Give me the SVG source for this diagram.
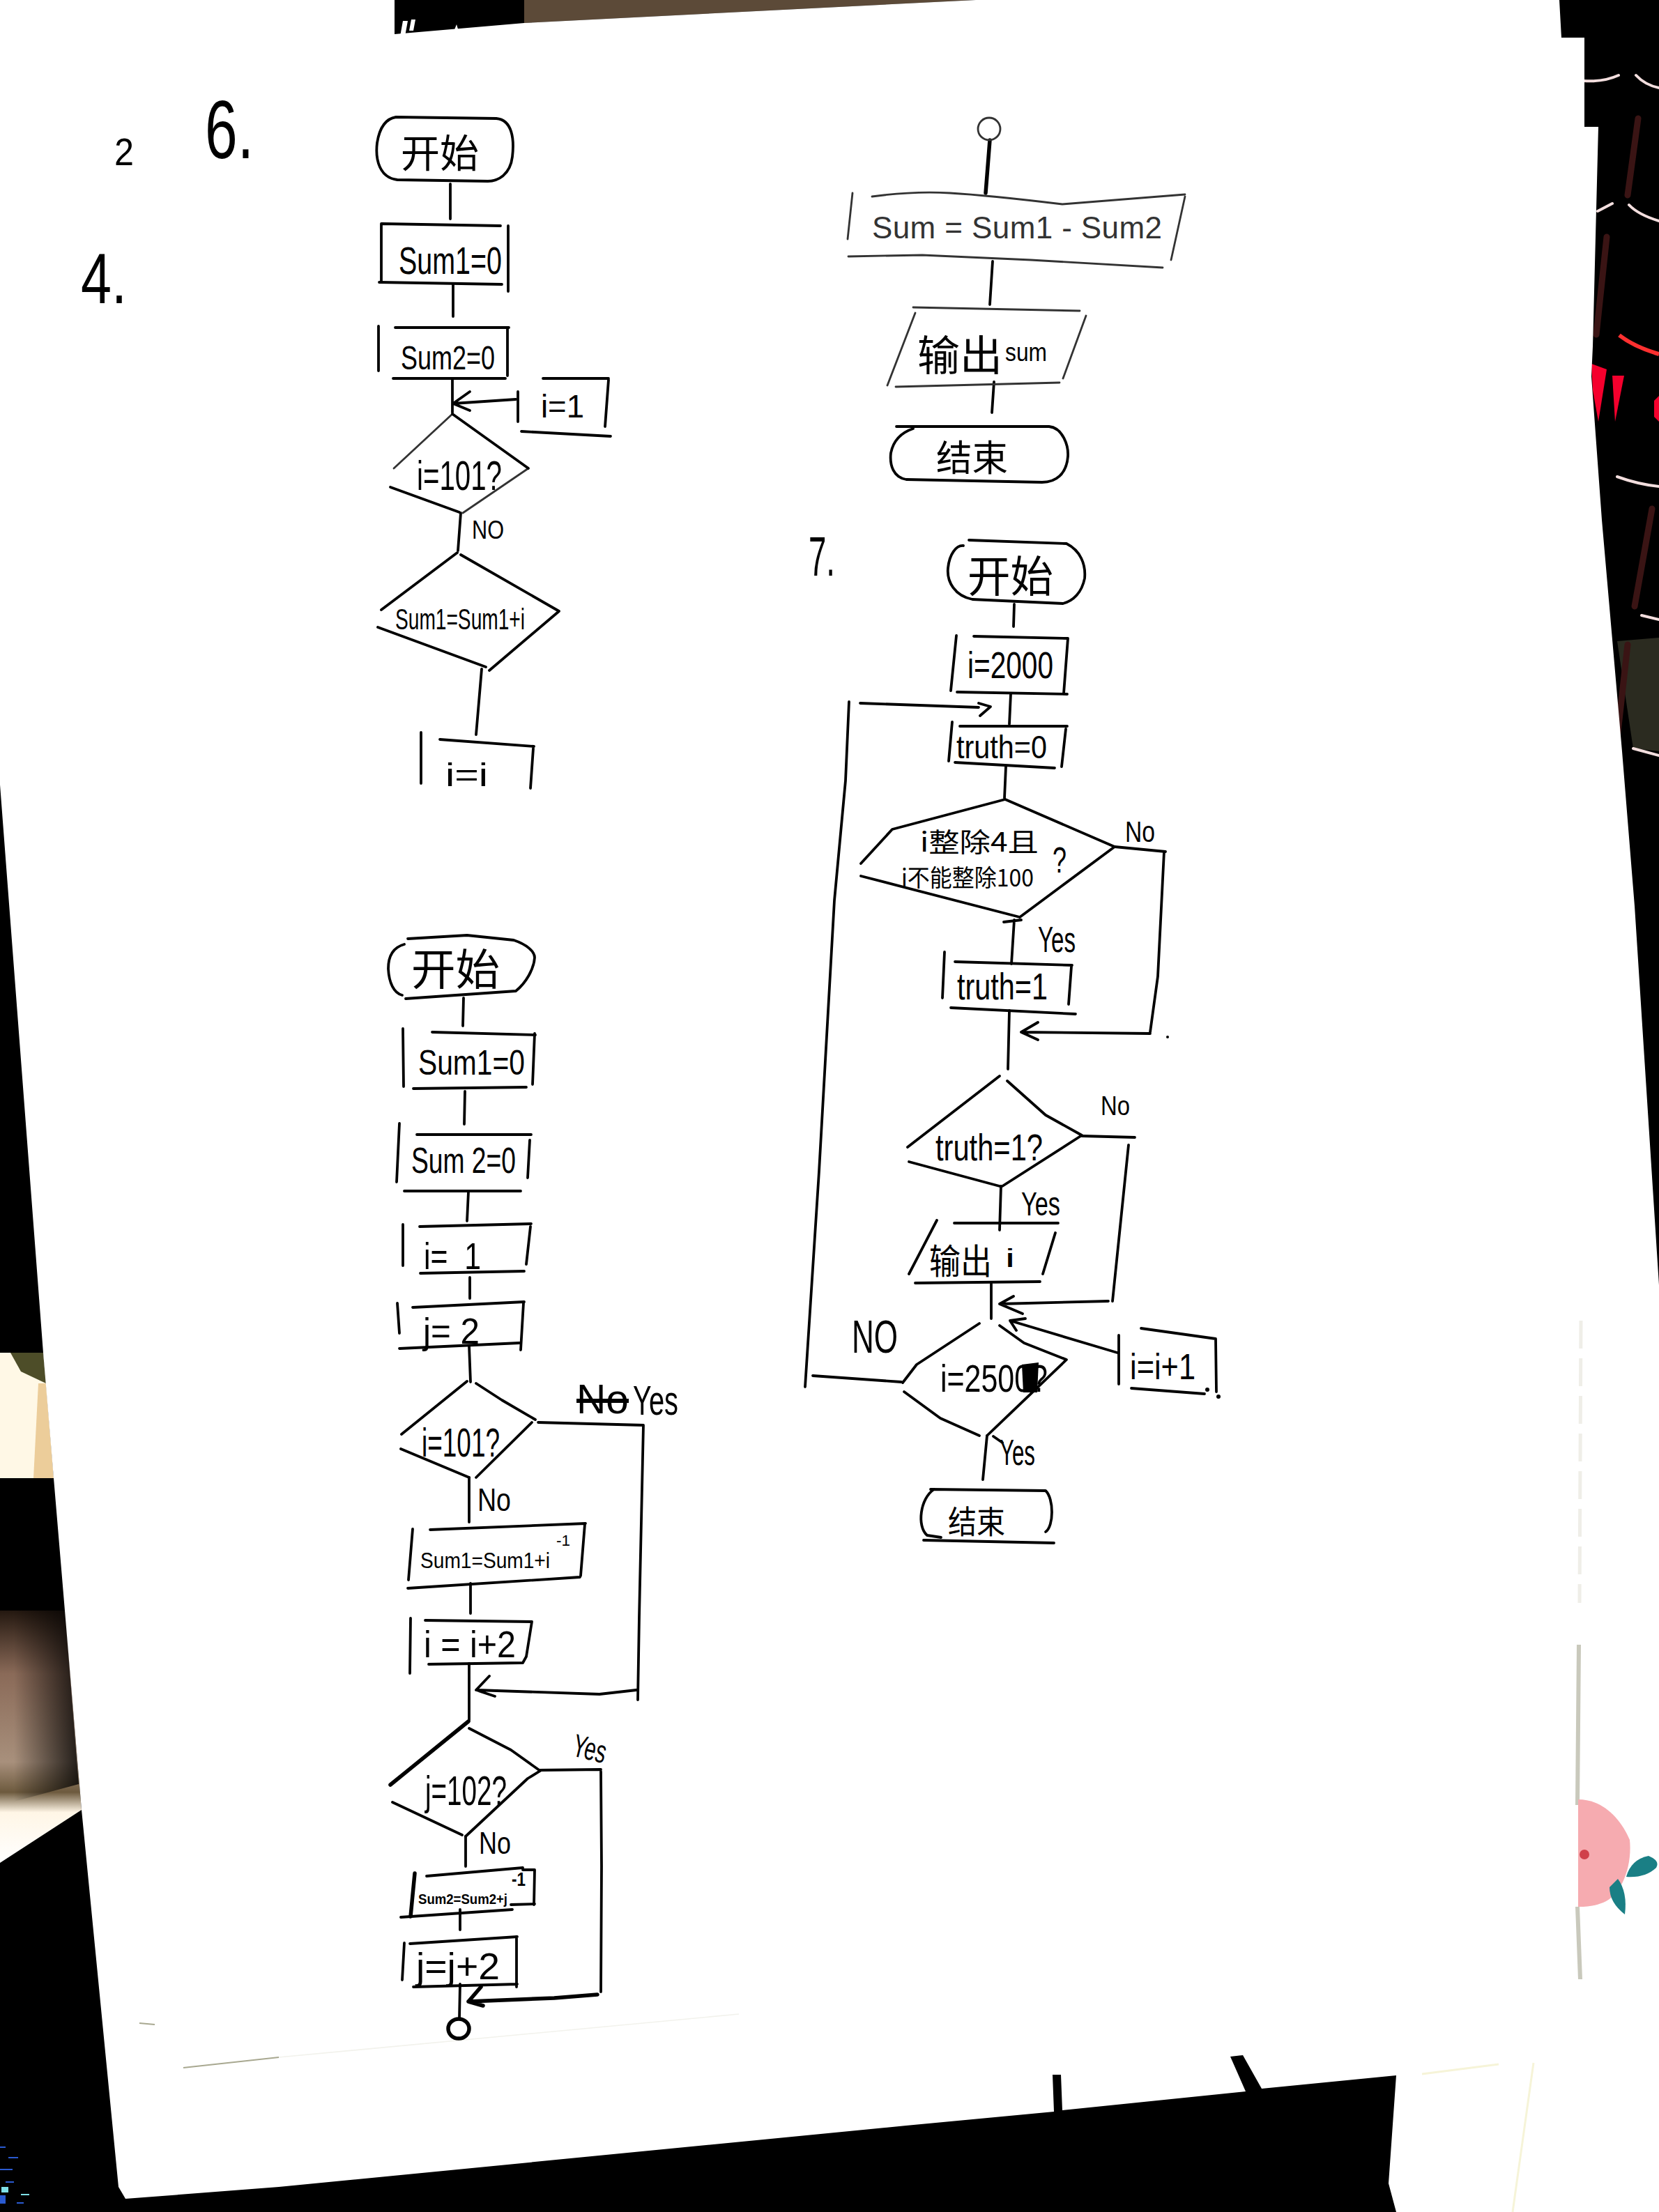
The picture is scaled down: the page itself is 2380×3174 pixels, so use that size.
<svg xmlns="http://www.w3.org/2000/svg" width="2380" height="3174" viewBox="0 0 2380 3174">
<style>
.s{fill:none;stroke:#000;stroke-width:3.8;stroke-linecap:round;stroke-linejoin:round}
.g{fill:none;stroke:#333;stroke-width:2.8;stroke-linecap:round;stroke-linejoin:round}
.b{fill:none;stroke:#000;stroke-width:5.5;stroke-linecap:round;stroke-linejoin:round}
.t{font-family:"Liberation Sans","Noto Sans CJK SC",sans-serif;fill:#000}
.c{font-family:"Noto Sans CJK SC","Liberation Sans",sans-serif;fill:#000}
.tg{font-family:"Liberation Sans","Noto Sans CJK SC",sans-serif;fill:#333}
.band{fill:none;stroke:#f3dede;stroke-width:4;stroke-linecap:round}
.smear{fill:none;stroke:#3a1414;stroke-width:9;stroke-linecap:round}
</style>
<defs>
<linearGradient id="brown" x1="0" y1="0" x2="0" y2="1">
<stop offset="0" stop-color="#241810"/><stop offset=".25" stop-color="#8a6a58"/><stop offset=".6" stop-color="#a8907c"/><stop offset=".72" stop-color="#6d5a3e"/><stop offset=".8" stop-color="#fff6e6"/><stop offset="1" stop-color="#fff"/>
</linearGradient>
<linearGradient id="shade" x1="0" y1="0" x2="1" y2="0">
<stop offset="0" stop-color="#000" stop-opacity="0"/><stop offset="1" stop-color="#000" stop-opacity=".8"/>
</linearGradient>
</defs>
<g id="photo-background">
<rect width="2380" height="3174" fill="#000"/>
<path d="M1400 0L752 33 752 0Z" fill="#5c4a38"/>
<path d="M2320 920L2380 915 2380 1078 2343 1074Z" fill="#2b2b20"/>
<path class="smear" d="M2350 170L2335 280M2305 340L2290 480M2370 730L2345 870M2335 925L2320 1060"/>
<path d="M2283 522L2305 530 2293 605 2285 560Z" fill="#f5002d"/>
<path d="M2313 539L2330 539 2317 605Z" fill="#f5002d"/>
<path d="M2380 568L2373 575 2373 598 2380 605Z" fill="#f5002d"/>
<path class="band" d="M2272 116Q2300 118 2322 108M2347 108Q2360 122 2380 126M2292 303L2313 292M2337 294Q2350 308 2380 317M2320 684Q2350 695 2380 698M2355 883L2380 889M2343 1074L2380 1084"/>
<path d="M2323 481Q2345 498 2380 508" fill="none" stroke="#ff3030" stroke-width="6"/>
<path d="M0 2311H93L117 2597 0 2673Z" fill="url(#brown)"/>
<path d="M20 2311H93L113 2560 20 2585Z" fill="url(#shade)"/>
<path d="M0 1941H62L77 2121H0Z" fill="#fff8e6"/>
<path d="M15 1941H62L66 1985 30 1968Z" fill="#4d4d28"/>
<path d="M55 1985L66 1985 77 2121 48 2121Z" fill="#eccd9a"/>
<path d="M0 3080h8v2H0zM12 3095h14v2H12zM0 3112h18v2H0zM8 3130h12v2H8zM0 3150h8v12H0zM24 3160h10v2H24z" fill="#2a5ad0"/>
<path d="M2 3138h10v8H2zM30 3148h12v2H30z" fill="#7fe0e8"/>
<path id="paper" d="M0 0H566V49L752 33 1400 0H2237L2240 54H2273V182H2293L2285 497 2283 540 2298 746 2327 1078 2345 1300 2380 1844V3174H2003L1992 3133 2003 2978 1810 2997 1783 2949 1765 2951 1787 3001 1524 3028 1522 2977 1510 2977 1512 3030 1300 3050 400 3138 180 3155 170 3138 117 2597 93 2311 77 2121 62 1941 0 1126Z" fill="#fff"/>
<path d="M578 30l-4 22 7 0 4-22zM590 28l-3 16 6 0 3-16zM655 35l-4 10 7 0z" fill="#fff"/>
<path d="M2268 1895L2266 2300" fill="none" stroke="#efeee8" stroke-width="5" stroke-dasharray="40 14"/>
<path d="M2265 2360L2263 2590M2263 2736L2267 2840" fill="none" stroke="#c9c9bc" stroke-width="6"/>
<path d="M2264 2582C2300 2582 2325 2610 2338 2640 2342 2680 2325 2720 2300 2730 2285 2736 2272 2736 2264 2736Z" fill="#f6abb0"/>
<circle cx="2273" cy="2661" r="7" fill="#d0404a"/>
<path d="M2333 2693Q2340 2668 2365 2663 2382 2670 2376 2680 2360 2695 2333 2693Z" fill="#1a7f85"/>
<path d="M2321 2696Q2335 2715 2331 2747 2309 2730 2309 2708Z" fill="#1a7f85"/>
<path d="M2040 2976L2150 2962M2200 2960L2170 3174" fill="none" stroke="#f6f4d8" stroke-width="3"/>
<path d="M200 2903L222 2905M263 2967L400 2952" fill="none" stroke="#a8a890" stroke-width="1.8"/>
<path d="M400 2952L1060 2890" fill="none" stroke="#f2f2ec" stroke-width="1.6"/>
</g>

<g id="page-labels">
<text class="t" x="164" y="237" font-size="55" textLength="28" lengthAdjust="spacingAndGlyphs">2</text>
<text class="t" x="294" y="227" font-size="118" textLength="70" lengthAdjust="spacingAndGlyphs">6.</text>
<text class="t" x="116" y="435" font-size="102" textLength="66" lengthAdjust="spacingAndGlyphs">4.</text>
<text class="t" x="1160" y="826" font-size="80" textLength="38" lengthAdjust="spacingAndGlyphs">7.</text>
</g>

<g id="connectors">
<path class="s" d="M646 264L646 314M650 408L650 454M649 545L649 592M740 573L650 579M674 562L650 579 674 589M661 736L657 790M691 960L683 1054"/>
<path class="b" d="M1420 201L1414 277"/>
<path class="s" d="M1424 375L1420 437M1426 548L1423 592M1455 867L1454 899M1450 996L1448 1039M1234 1009L1404 1015M1404 1009L1421 1014 1406 1027M1443 1100L1441 1145"/>
<path class="s" d="M1599 1215L1672 1222M1670 1222L1661 1401 1650 1481M1650 1483L1465 1481M1489 1467L1465 1481 1489 1492"/>
<path class="s" d="M1451 1383L1455 1320M1440 1323L1465 1320M1448 1450L1446 1534"/>
<path class="s" d="M1552 1630L1628 1632M1619 1643L1596 1867M1590 1867L1434 1871M1454 1860L1434 1871 1467 1885M1436 1702L1434 1765M1422 1842L1422 1892M1603 1941L1449 1895M1471 1892L1449 1895 1458 1909"/>
<path class="s" d="M1293 1983L1166 1974M1155 1990L1175 1681 1197 1292 1213 1120 1218 1007M1416 2060L1410 2123M1425 2061L1438 2070"/>
<path class="s" d="M665 1432L664 1472M667 1566L666 1613M672 1710L670 1752M674 1833L674 1863M673 1931L675 1983M772 2041L923 2045M923 2045L917 2320 915 2439M673 2120L673 2184M675 2272L675 2315M673 2387L673 2468M913 2425L860 2431 683 2425M702 2405L683 2425 710 2434"/>
<path class="s" d="M775 2540L862 2539M862 2542L863 2678 862 2858M668 2635L668 2678M660 2740L660 2769M660 2847L659 2896"/>
<path class="b" d="M857 2862L795 2867 672 2872M690 2851L672 2872 693 2878"/>
</g>

<g id="flow1-start"><path class="s" d="M568 168L712 170C735 172 738 200 735 225 732 250 715 260 700 260L570 258C545 255 538 230 541 205 545 180 555 170 568 168Z"/><text class="c" x="575" y="240" font-size="56" textLength="112" lengthAdjust="spacingAndGlyphs">开始</text></g>
<g id="flow1-sum1"><path class="s" d="M548 321L718 324M547 321L547 405M544 405L720 408M729 324L729 418"/><text class="t" x="572" y="393" font-size="56" textLength="148" lengthAdjust="spacingAndGlyphs">Sum1=0</text></g>
<g id="flow1-sum2"><path class="s" d="M567 470L730 470M543 468L543 532M728 472L728 539M564 543L725 543"/><text class="t" x="575" y="530" font-size="48" textLength="135" lengthAdjust="spacingAndGlyphs">Sum2=0</text></g>
<g id="flow1-i1"><path class="s" d="M743 562L743 605M779 543L873 543M873 545L868 612M748 619L876 626"/><text class="t" x="776" y="599" font-size="46" textLength="62" lengthAdjust="spacingAndGlyphs">i=1</text></g>
<g id="flow1-decision"><path class="g" d="M649 594L565 672M664 736L758 672"/><path class="s" d="M649 594L758 672M560 699L659 735"/><text class="t" x="598" y="703" font-size="60" textLength="122" lengthAdjust="spacingAndGlyphs">i=101?</text><text class="t" x="677" y="773" font-size="36" textLength="46" lengthAdjust="spacingAndGlyphs">NO</text></g>
<g id="flow1-update"><path class="s" d="M656 793L547 875M542 900L697 957M661 796L802 877 702 962"/><text class="t" x="567" y="903" font-size="42" textLength="186" lengthAdjust="spacingAndGlyphs">Sum1=Sum1+i</text></g>
<g id="flow1-ii"><path class="s" d="M604 1051L604 1124M631 1061L766 1071M765 1074L761 1131"/><text class="t" x="639" y="1128" font-size="46" textLength="61" lengthAdjust="spacingAndGlyphs">i=i</text></g>

<g id="flow2-connector-in"><ellipse class="g" cx="1419" cy="185" rx="16" ry="16"/></g>
<g id="flow2-sum"><path class="g" d="M1251 282Q1310 274 1363 277T1524 293L1700 279M1223 277L1216 343M1700 282L1680 373M1217 368L1323 366 1479 373 1668 384"/><text class="tg" x="1251" y="342" font-size="44" textLength="416" lengthAdjust="spacing">Sum = Sum1 - Sum2</text></g>
<g id="flow2-output"><path class="g" d="M1310 441L1549 446M1313 449L1273 553M1558 453L1525 543M1285 555L1520 549"/><text class="c" x="1316" y="532" font-size="60" textLength="122" lengthAdjust="spacingAndGlyphs">输出</text><text class="t" x="1442" y="518" font-size="36" textLength="60" lengthAdjust="spacingAndGlyphs">sum</text></g>
<g id="flow2-end"><path class="s" d="M1286 612L1505 612C1525 614 1533 640 1532 655 1530 680 1515 692 1495 692L1300 688C1282 685 1276 668 1278 650 1282 630 1295 620 1310 615"/><text class="c" x="1343" y="676" font-size="52" textLength="103" lengthAdjust="spacingAndGlyphs">结束</text></g>

<g id="flow3-start"><path class="s" d="M1390 775L1530 780C1550 790 1558 810 1556 830 1552 850 1540 862 1525 866L1395 860C1370 855 1358 835 1360 815 1362 795 1372 782 1382 783"/><text class="c" x="1388" y="850" font-size="62" textLength="123" lengthAdjust="spacingAndGlyphs">开始</text></g>
<g id="flow3-i2000"><path class="s" d="M1397 913L1532 916M1372 912L1364 991M1532 916L1526 995M1373 993L1531 996"/><text class="t" x="1388" y="973" font-size="54" textLength="123" lengthAdjust="spacingAndGlyphs">i=2000</text></g>
<g id="flow3-truth0"><path class="s" d="M1377 1042L1531 1042M1366 1036L1361 1092M1529 1046L1523 1100M1370 1094L1513 1102"/><text class="t" x="1372" y="1088" font-size="46" textLength="130" lengthAdjust="spacingAndGlyphs">truth=0</text></g>
<g id="flow3-leap"><path class="s" d="M1442 1147L1280 1190 1235 1239M1235 1257L1463 1316M1442 1147L1599 1215 1463 1316"/><text class="c" x="1320" y="1222" font-size="38" textLength="170" lengthAdjust="spacingAndGlyphs">i整除4且</text><text class="t" x="1510" y="1252" font-size="52" textLength="20" lengthAdjust="spacingAndGlyphs">?</text><text class="c" x="1293" y="1272" font-size="34" textLength="190" lengthAdjust="spacingAndGlyphs">i不能整除100</text><text class="t" x="1614" y="1208" font-size="42" textLength="43" lengthAdjust="spacingAndGlyphs">No</text><text class="t" x="1489" y="1366" font-size="52" textLength="54" lengthAdjust="spacingAndGlyphs">Yes</text></g>
<g id="flow3-truth1"><path class="s" d="M1370 1380L1538 1385M1355 1366L1352 1432M1537 1387L1533 1441M1364 1446L1543 1455"/><text class="t" x="1373" y="1434" font-size="54" textLength="130" lengthAdjust="spacingAndGlyphs">truth=1</text><circle cx="1675" cy="1488" r="2"/></g>
<g id="flow3-truth-test"><path class="s" d="M1434 1544L1302 1646M1304 1667L1434 1702M1445 1551L1500 1600 1552 1629 1438 1702"/><text class="t" x="1342" y="1665" font-size="54" textLength="154" lengthAdjust="spacingAndGlyphs">truth=1?</text><text class="t" x="1579" y="1600" font-size="38" textLength="42" lengthAdjust="spacingAndGlyphs">No</text><text class="t" x="1465" y="1744" font-size="48" textLength="56" lengthAdjust="spacingAndGlyphs">Yes</text></g>
<g id="flow3-output"><path class="s" d="M1369 1755L1518 1755M1344 1751L1304 1828M1514 1769L1496 1828M1313 1841L1492 1839"/><text class="c" x="1333" y="1828" font-size="50" textLength="90" lengthAdjust="spacingAndGlyphs">输出</text><text class="t" x="1442" y="1818" font-size="36" textLength="14" lengthAdjust="spacingAndGlyphs">i</text></g>
<g id="flow3-end-test"><path class="s" d="M1405 1899L1315 1958 1295 1984M1297 1997L1349 2035 1405 2060M1434 1902L1469 1927 1530 1951 1416 2060"/><text class="t" x="1349" y="1997" font-size="56" textLength="154" lengthAdjust="spacingAndGlyphs">i=2500?</text><path d="M1466 1958L1490 1955 1488 1998 1468 1998Z" fill="#000"/><text class="t" x="1222" y="1941" font-size="66" textLength="66" lengthAdjust="spacingAndGlyphs">NO</text><text class="t" x="1434" y="2102" font-size="52" textLength="51" lengthAdjust="spacingAndGlyphs">Yes</text></g>
<g id="flow3-inc"><path class="s" d="M1637 1906L1744 1921M1605 1916L1605 1986M1744 1921L1745 1997M1623 1992L1728 2000"/><text class="t" x="1621" y="1979" font-size="52" textLength="94" lengthAdjust="spacingAndGlyphs">i=i+1</text><circle cx="1732" cy="1994" r="3"/><circle cx="1748" cy="2004" r="3"/></g>
<g id="flow3-end"><path class="s" d="M1335 2137L1500 2139C1512 2150 1512 2190 1500 2198M1325 2210L1512 2214M1340 2137C1320 2150 1315 2190 1330 2203L1350 2206"/><text class="c" x="1360" y="2200" font-size="46" textLength="82" lengthAdjust="spacingAndGlyphs">结束</text></g>

<g id="flow4-start"><path class="s" d="M585 1347L670 1342 737 1349C755 1355 767 1365 767 1374 766 1390 755 1410 740 1422M740 1422L582 1433M580 1355C562 1360 557 1375 557 1390 558 1410 565 1425 577 1428"/><text class="c" x="590" y="1414" font-size="62" textLength="127" lengthAdjust="spacingAndGlyphs">开始</text></g>
<g id="flow4-sum1"><path class="s" d="M578 1476L579 1559M620 1481L768 1485M767 1483L764 1556M593 1562L755 1560"/><text class="t" x="600" y="1542" font-size="50" textLength="153" lengthAdjust="spacingAndGlyphs">Sum1=0</text></g>
<g id="flow4-sum2"><path class="s" d="M573 1612L569 1696M598 1628L762 1628M760 1636L757 1690M580 1709L747 1709"/><text class="t" x="590" y="1683" font-size="52" textLength="150" lengthAdjust="spacingAndGlyphs">Sum 2=0</text></g>
<g id="flow4-i"><path class="s" d="M578 1757L578 1816M602 1760L762 1756M761 1760L755 1814M603 1827L752 1824"/><text class="t" x="608" y="1821" font-size="54" textLength="82" xml:space="preserve" lengthAdjust="spacingAndGlyphs">i=  1</text></g>
<g id="flow4-j"><path class="s" d="M570 1870L573 1913M592 1876L752 1868M751 1870L747 1937M573 1935L745 1927"/><text class="t" x="607" y="1928" font-size="52" textLength="81" xml:space="preserve" lengthAdjust="spacingAndGlyphs">j= 2</text></g>
<g id="flow4-test-i"><path class="s" d="M670 1982L576 2058M575 2079L673 2120M683 1985L720 2009 768 2037M763 2041L683 2120"/><text class="t" x="605" y="2090" font-size="58" textLength="112" lengthAdjust="spacingAndGlyphs">i=101?</text><text class="t" x="827" y="2028" font-size="60" textLength="75" lengthAdjust="spacingAndGlyphs" text-decoration="line-through">No</text><text class="t" x="908" y="2030" font-size="60" textLength="65" lengthAdjust="spacingAndGlyphs">Yes</text><text class="t" x="685" y="2168" font-size="46" textLength="48" lengthAdjust="spacingAndGlyphs">No</text></g>
<g id="flow4-add1"><path class="s" d="M617 2195L840 2186M592 2194L586 2267M839 2187L833 2261M585 2279L832 2263"/><text class="t" x="603" y="2250" font-size="32" textLength="186" lengthAdjust="spacingAndGlyphs">Sum1=Sum1+i</text><text class="t" x="798" y="2218" font-size="22" textLength="20" lengthAdjust="spacingAndGlyphs">-1</text></g>
<g id="flow4-inc-i"><path class="s" d="M589 2322L588 2401M610 2325L763 2327M763 2327L755 2377 750 2386M615 2388L750 2386"/><text class="t" x="608" y="2378" font-size="54" textLength="132" lengthAdjust="spacingAndGlyphs">i = i+2</text></g>
<g id="flow4-test-j"><path class="b" d="M672 2470L560 2561"/><path class="s" d="M563 2586L663 2633M673 2480L733 2511 775 2541M775 2541L757 2552 668 2635"/><text class="t" x="610" y="2590" font-size="60" textLength="117" lengthAdjust="spacingAndGlyphs">j=102?</text><text class="t" transform="rotate(14 846 2510)" x="822" y="2525" font-size="46" textLength="48" lengthAdjust="spacingAndGlyphs">Yes</text><text class="t" x="687" y="2660" font-size="44" textLength="46" lengthAdjust="spacingAndGlyphs">No</text></g>
<g id="flow4-add2"><path class="s" d="M612 2692L750 2680M750 2683L767 2683 766 2733M733 2733L767 2732M575 2751L735 2740"/><path class="b" d="M595 2688L589 2750"/><text class="t" x="600" y="2732" font-size="21" font-weight="700" textLength="128" lengthAdjust="spacingAndGlyphs">Sum2=Sum2+j</text><text class="t" x="734" y="2706" font-size="28" font-weight="700" textLength="20" lengthAdjust="spacingAndGlyphs">-1</text></g>
<g id="flow4-inc-j"><path class="s" d="M580 2788L577 2841M588 2789L742 2779M741 2779L741 2851M593 2851L742 2847"/><text class="t" x="597" y="2840" font-size="54" textLength="120" lengthAdjust="spacingAndGlyphs">j=j+2</text></g>
<g id="flow4-connector-out"><ellipse class="b" cx="658" cy="2911" rx="15" ry="14"/></g>
</svg>
